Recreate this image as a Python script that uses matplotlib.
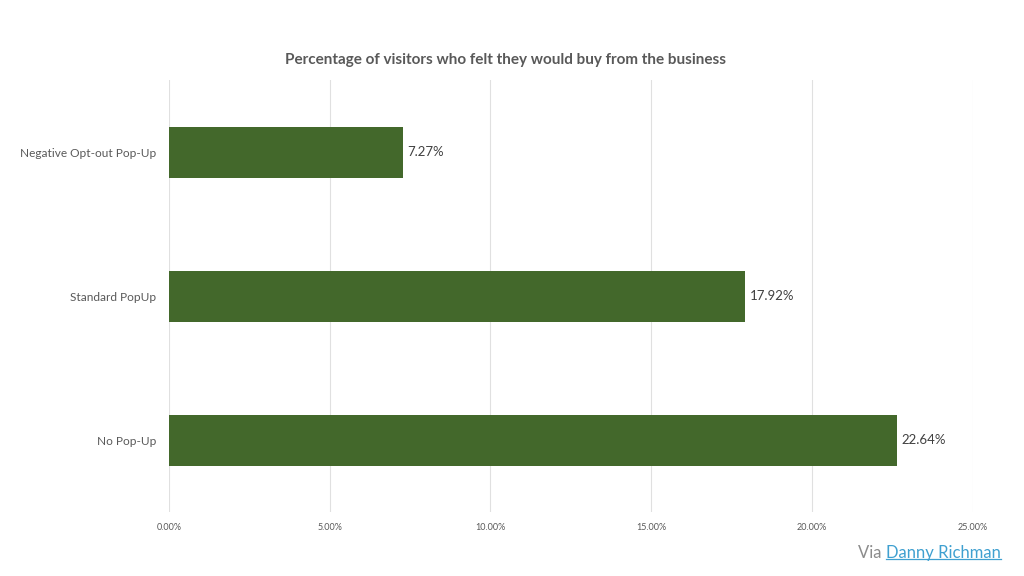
import matplotlib.pyplot as plt
from matplotlib.ticker import FuncFormatter

plt.rcParams['font.family'] = ['Lato', 'DejaVu Sans']

# data, bottom to top
categories = ['No Pop-Up', 'Standard PopUp', 'Negative Opt-out Pop-Up']
values = [22.64, 17.92, 7.27]
x_ticks = [0, 5, 10, 15, 20, 25]

fig = plt.figure(figsize=(10.24, 5.76), dpi=100)
ax = fig.add_axes([0.165, 0.111, 0.785, 0.75])

bars = ax.barh(range(len(categories)), values, height=0.355, color='#43682b', zorder=3)
for b, v in zip(bars, values):
    ax.text(v + 0.15, b.get_y() + b.get_height() / 2, f'{v:.2f}%',
            va='center', ha='left', fontsize=9.5, color='#404040')

ax.set_xlim(0, 25)
ax.set_ylim(-0.5, 2.5)
ax.set_xticks(x_ticks)
ax.xaxis.set_major_formatter(FuncFormatter(lambda v, p: f'{v:.2f}%'))
ax.set_yticks(range(len(categories)))
ax.set_yticklabels(categories)
ax.tick_params(axis='x', labelsize=6.5, colors='#595959', length=0, pad=8)
ax.tick_params(axis='y', labelsize=8.6, colors='#595959', length=0, pad=9)
ax.grid(axis='x', color='#e0e0e0', linewidth=0.8, zorder=0)
for s in ax.spines.values():
    s.set_visible(False)

fig.text(0.494, 0.896, 'Percentage of visitors who felt they would buy from the business',
         ha='center', va='center', fontsize=11, fontweight='bold', color='#595959')

t1 = fig.text(0.838, 0.04, 'Via ', ha='left', va='center', fontsize=12, color='#8c8c8c')
fig.canvas.draw()
bb = t1.get_window_extent()
inv = fig.transFigure.inverted()
x1 = inv.transform((bb.x1, bb.y0))[0]
t2 = fig.text(x1, 0.04, 'Danny Richman', ha='left', va='center', fontsize=12, color='#3fa0d0')
# underline for link
fig.canvas.draw()
bb2 = t2.get_window_extent()
(lx0, ly0) = inv.transform((bb2.x0, bb2.y0 + 2))
(lx1, _) = inv.transform((bb2.x1, bb2.y0 + 2))
fig.add_artist(plt.Line2D([lx0, lx1], [ly0, ly0], color='#3fa0d0', linewidth=0.9))

fig.savefig('out.png', dpi=100)
